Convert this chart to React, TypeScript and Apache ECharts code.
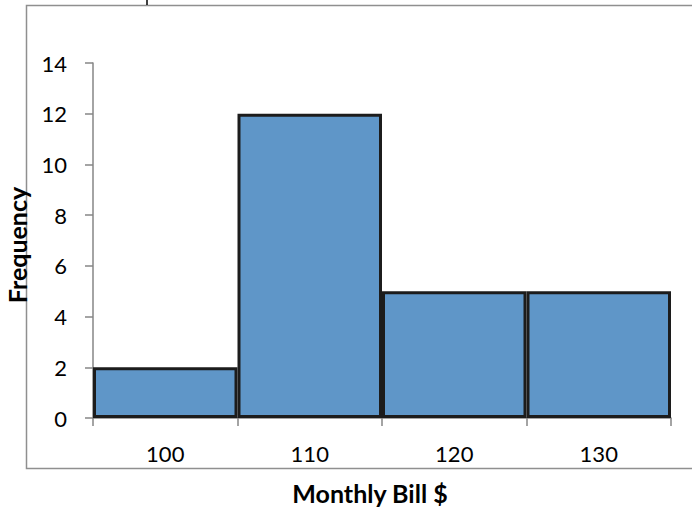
import React, { useEffect, useRef } from "react";
import * as echarts from "echarts";

const categories = ["100", "110", "120", "130"];
const frequencies = [2, 12, 5, 5];
const yTicks = { min: 0, max: 14, interval: 2 };
const xTitle = "Monthly Bill $";
const yTitle = "Frequency";

export default function App() {
  const ref = useRef<HTMLDivElement>(null);
  useEffect(() => {
    if (!ref.current) return;
    const chart = echarts.init(ref.current, null, { renderer: "svg" });
    const font = "Lato, 'Open Sans', sans-serif";
    chart.setOption({
      animation: false,
      backgroundColor: "#ffffff",
      textStyle: { fontFamily: font },
      graphic: [
        {
          type: "rect",
          shape: { x: 26.5, y: 5.5, width: 700, height: 463 },
          style: { fill: "none", stroke: "#8f8f8f", lineWidth: 1.5 },
          z: 0,
        },
        {
          type: "line",
          shape: { x1: 147, y1: 0, x2: 147, y2: 5 },
          style: { stroke: "#000", lineWidth: 1.5 },
        },
        {
          type: "text",
          x: 370,
          y: 493,
          style: {
            text: xTitle,
            fontFamily: font,
            fontSize: 25,
            fontWeight: "bold",
            fill: "#000",
            align: "center",
            verticalAlign: "middle",
          },
        },
        {
          type: "text",
          x: 17,
          y: 245,
          rotation: Math.PI / 2,
          style: {
            text: yTitle,
            fontFamily: font,
            fontSize: 25,
            fontWeight: "bold",
            fill: "#000",
            align: "center",
            verticalAlign: "middle",
          },
        },
      ],
      grid: { left: 93, right: 21, top: 63, bottom: 90, containLabel: false },
      xAxis: {
        type: "category",
        data: categories,
        axisLine: { lineStyle: { color: "#868686", width: 1.5 } },
        axisTick: { show: true, length: 8, lineStyle: { color: "#868686", width: 1.5 } },
        axisLabel: { fontFamily: font, fontSize: 22, color: "#000", margin: 24 },
        splitLine: { show: false },
      },
      yAxis: {
        type: "value",
        min: yTicks.min,
        max: yTicks.max,
        interval: yTicks.interval,
        axisLine: { show: true, lineStyle: { color: "#868686", width: 1.5 } },
        axisTick: { show: true, length: 8, lineStyle: { color: "#868686", width: 1.5 } },
        axisLabel: { fontFamily: font, fontSize: 22, color: "#000", margin: 26 },
        splitLine: { show: false },
      },
      series: [
        {
          type: "bar",
          data: frequencies,
          barCategoryGap: "0%",
          barGap: "0%",
          itemStyle: { color: "#5f96c8", borderColor: "#1c1c1c", borderWidth: 3 },
        },
      ],
    });
    return () => chart.dispose();
  }, []);
  return (
    <div
      ref={ref}
      style={{ position: "absolute", left: 0, top: 0, width: 692, height: 508 }}
    />
  );
}
